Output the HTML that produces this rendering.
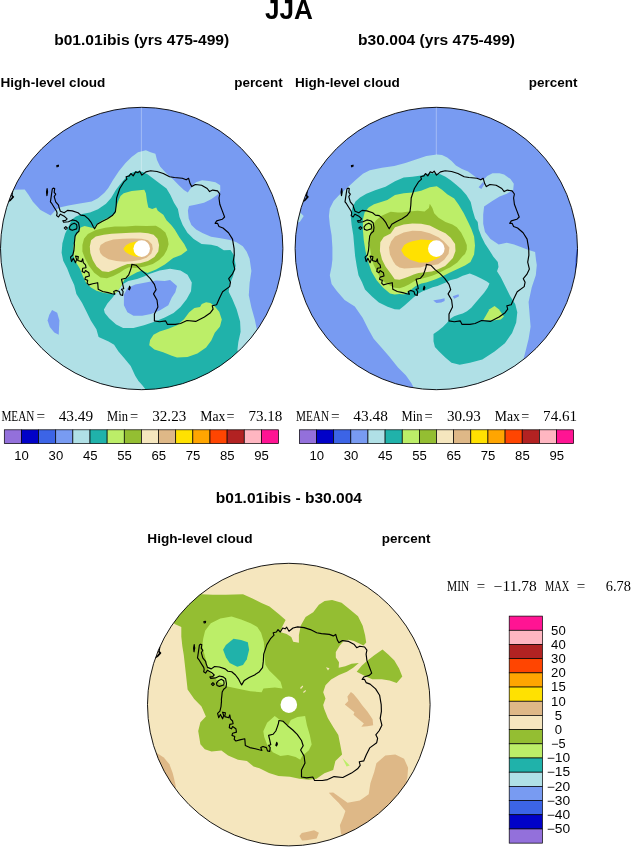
<!DOCTYPE html>
<html><head><meta charset="utf-8"><title>JJA High-level cloud</title>
<style>
html,body{margin:0;padding:0;background:#fff}
svg{display:block}
.b{font-family:"Liberation Sans",sans-serif;font-weight:bold;fill:#000}
.s{font-family:"Liberation Serif",serif;fill:#000}
.n{font-family:"Liberation Sans",sans-serif;fill:#000}
</style></head>
<body>
<svg width="632" height="847" viewBox="0 0 632 847">
<defs>
<clipPath id="c1"><circle cx="141.7" cy="248.5" r="141.2"/></clipPath>
<clipPath id="c2"><circle cx="436.3" cy="248.5" r="141.2"/></clipPath>
<clipPath id="c3"><circle cx="288.8" cy="704.6" r="141.3"/></clipPath>
</defs>
<rect width="632" height="847" fill="#fff"/>
<g opacity="0.999">
<!-- titles -->
<text class="b" x="264.9" y="19.4" font-size="27.5" textLength="48" lengthAdjust="spacingAndGlyphs">JJA</text>
<text class="b" x="54.2" y="44.6" font-size="15.5" textLength="175" lengthAdjust="spacingAndGlyphs">b01.01ibis (yrs 475-499)</text>
<text class="b" x="358" y="44.6" font-size="15.5" textLength="157" lengthAdjust="spacingAndGlyphs">b30.004 (yrs 475-499)</text>
<text class="b" x="0.5" y="87.1" font-size="13.5" textLength="104.8" lengthAdjust="spacingAndGlyphs">High-level cloud</text>
<text class="b" x="234.2" y="87.1" font-size="13.5" textLength="48.6" lengthAdjust="spacingAndGlyphs">percent</text>
<text class="b" x="295" y="87.1" font-size="13.5" textLength="104.8" lengthAdjust="spacingAndGlyphs">High-level cloud</text>
<text class="b" x="528.8" y="87.1" font-size="13.5" textLength="48.6" lengthAdjust="spacingAndGlyphs">percent</text>
<text class="b" x="215.8" y="502.8" font-size="15.5" textLength="146.2" lengthAdjust="spacingAndGlyphs">b01.01ibis - b30.004</text>
<text class="b" x="147.3" y="543.1" font-size="13.5" textLength="105.2" lengthAdjust="spacingAndGlyphs">High-level cloud</text>
<text class="b" x="381.8" y="543.1" font-size="13.5" textLength="48.6" lengthAdjust="spacingAndGlyphs">percent</text>

<!-- MAP1 -->
<g id="map1" clip-path="url(#c1)">
<rect x="0" y="100" width="290" height="300" fill="#789bf2"/>
<!--M1FILL_S-->
<path d="M-5.0,189.7 L13.3,189.7 L24.7,189.4 L28.5,194.8 L32.9,201.8 L40.5,210.0 L50.6,215.4 L55.7,210.0 L59.5,207.5 L68.4,205.6 L78.3,203.7 L91.7,201.4 L98.0,198.2 L104.4,192.7 L108.3,187.9 L112.7,180.6 L119.0,171.1 L125.3,163.2 L131.6,156.9 L138.0,152.2 L145.9,150.3 L150.6,152.2 L155.4,153.7 L157.0,160.1 L160.1,166.4 L166.5,173.5 L172.8,179.1 L179.1,185.4 L183.9,190.1 L187.8,192.5 L190.5,188.5 L193.0,185.0 L196.0,182.3 L202.1,180.2 L208.8,181.1 L215.4,182.2 L220.2,185.3 L220.3,190.9 L217.5,194.8 L211.1,199.2 L204.0,202.7 L195.3,204.8 L189.0,205.9 L187.9,210.6 L188.7,218.5 L191.4,224.9 L196.1,229.6 L202.4,233.1 L211.1,236.7 L220.6,238.3 L230.1,239.9 L236.5,242.3 L242.8,246.2 L246.7,251.8 L249.6,258.7 L251.4,270.9 L249.6,283.1 L248.8,295.3 L251.4,307.4 L254.8,319.6 L256.6,328.3 L262.0,335.0 L300.0,420.0 L-5.0,420.0Z" fill="#b0e0e6"/>
<path d="M52.1,310.0 L57.2,312.7 L59.4,320.4 L58.7,334.8 L54.3,332.6 L49.8,327.1 L47.6,320.4 L49.2,314.9Z" fill="#789bf2"/>
<path d="M61.6,252.8 L62.4,243.3 L65.1,233.8 L68.8,225.9 L72.0,219.6 L75.9,216.4 L82.2,214.0 L90.0,212.4 L98.0,209.3 L106.0,203.7 L111.1,198.0 L115.8,190.1 L120.6,183.8 L125.3,178.3 L130.1,173.5 L136.4,171.1 L142.7,171.9 L147.5,174.3 L153.8,179.1 L160.1,183.8 L166.5,188.5 L170.4,194.9 L174.0,202.7 L177.9,209.1 L179.5,217.0 L182.7,224.9 L187.4,232.8 L193.7,239.1 L201.6,243.9 L211.1,244.7 L217.5,246.2 L223.8,250.2 L230.5,250.0 L234.0,255.2 L235.7,265.7 L233.1,276.1 L229.6,284.8 L228.7,291.8 L232.2,298.7 L236.6,309.2 L240.1,321.4 L240.6,331.8 L238.3,342.3 L237.4,350.1 L240.0,360.0 L240.0,420.0 L150.0,420.0 L146.0,390.0 L142.3,385.2 L138.5,380.9 L135.2,375.7 L130.7,365.9 L124.1,358.1 L118.5,351.5 L114.1,344.8 L108.6,341.5 L98.6,337.1 L96.4,329.3 L90.8,320.4 L86.4,311.6 L82.0,302.7 L76.4,293.9 L74.2,285.0 L71.9,280.0 L70.3,276.5 L67.2,268.6 L63.2,260.7Z" fill="#20b2aa"/>
<path d="M149.2,273.9 L159.6,270.4 L170.1,268.7 L180.5,270.4 L187.5,274.8 L191.8,282.6 L191.0,291.3 L186.6,299.2 L180.5,307.0 L173.6,313.1 L164.8,317.4 L154.4,321.8 L144.0,325.3 L133.5,327.9 L123.1,327.9 L116.1,324.4 L109.1,318.3 L104.8,313.1 L103.9,309.6 L107.4,303.5 L112.6,297.4 L117.8,290.5 L122.2,284.4 L128.3,280.9 L137.0,279.1 L144.0,276.5Z" fill="#b0e0e6"/>
<path d="M123.9,294.8 L127.4,287.9 L135.3,284.4 L145.7,282.6 L156.1,280.5 L164.8,280.9 L170.1,280.0 L177.0,286.1 L175.3,292.2 L171.8,297.4 L168.3,305.3 L159.6,310.5 L150.9,314.0 L142.2,315.7 L133.5,315.7 L127.4,312.2 L123.9,305.3Z" fill="#789bf2"/>
<path d="M206.1,302.2 L210.5,303.1 L214.8,306.6 L219.2,311.8 L221.8,319.6 L220.0,326.6 L214.8,332.7 L211.3,340.5 L206.1,347.5 L197.4,353.6 L187.5,357.1 L177.0,357.5 L171.8,355.7 L163.1,352.2 L154.4,349.6 L149.2,345.3 L150.1,340.1 L153.5,334.8 L159.6,331.4 L168.3,328.8 L177.0,325.3 L184.0,319.2 L189.2,312.2 L194.4,307.9 L200.0,307.0 L201.8,304.0Z" fill="#bcee68"/>
<path d="M73.5,246.5 L75.1,237.0 L78.3,232.2 L80.6,227.5 L84.6,225.9 L94.0,228.3 L96.5,224.3 L101.2,221.1 L109.0,217.2 L115.4,213.2 L116.2,206.9 L118.5,200.6 L120.5,196.0 L123.7,193.3 L131.6,190.9 L144.3,189.8 L145.9,193.3 L147.0,201.2 L148.3,207.5 L152.2,209.1 L156.2,207.5 L157.8,210.7 L163.3,214.7 L166.5,220.2 L171.2,224.9 L174.7,229.6 L179.5,237.5 L184.2,243.9 L187.4,250.2 L181.1,254.9 L173.2,258.1 L164.8,264.4 L156.1,269.6 L147.4,273.1 L142.2,270.4 L137.0,272.2 L129.2,276.5 L124.8,279.1 L121.3,286.1 L116.2,293.1 L112.3,293.9 L104.4,293.1 L96.5,290.8 L90.9,287.6 L86.2,282.9 L83.0,276.5 L79.8,268.6 L75.9,262.3 L73.5,256.0Z" fill="#bcee68"/>
<path d="M82.4,245.1 L84.0,238.7 L87.9,234.0 L95.8,230.0 L105.3,227.7 L114.8,226.4 L125.9,226.4 L135.4,225.8 L146.5,226.1 L155.9,225.8 L160.7,228.4 L165.4,232.4 L167.8,238.7 L168.6,244.3 L167.0,249.8 L163.9,255.3 L159.1,260.1 L152.8,264.1 L144.9,266.4 L135.4,268.0 L129.0,267.2 L124.3,269.6 L119.6,272.8 L113.2,275.9 L106.9,278.3 L100.6,277.5 L94.2,272.8 L88.7,265.6 L84.7,257.7 L82.4,251.4Z" fill="#94be32"/>
<path d="M89.8,246.6 L91.1,240.3 L95.8,236.4 L103.7,234.8 L111.6,233.7 L121.1,233.2 L130.6,232.7 L140.1,232.4 L148.0,233.2 L153.6,234.8 L157.5,238.7 L159.1,245.1 L158.3,251.4 L154.4,256.9 L148.0,260.9 L140.1,263.3 L135.4,263.7 L127.5,264.1 L121.1,266.4 L114.8,269.6 L108.5,272.0 L102.2,271.2 L96.6,266.4 L92.7,260.1 L90.3,253.0Z" fill="#f5e6be"/>
<path d="M99.3,249.0 L100.6,245.1 L105.3,241.9 L113.2,239.5 L122.7,238.7 L132.2,238.4 L141.7,238.7 L148.0,240.3 L152.0,244.3 L152.8,249.0 L151.2,253.8 L146.5,257.7 L140.1,260.1 L132.2,261.2 L124.3,261.7 L116.4,260.9 L108.5,259.3 L102.9,256.1 L100.3,253.0Z" fill="#deb887"/>
<path d="M123.3,248.7 L126.0,245.3 L130.0,243.0 L136.0,241.5 L142.0,241.5 L142.0,257.0 L135.0,256.5 L129.5,254.5 L125.5,252.0Z" fill="#ffe100"/>
<circle cx="141.7" cy="248.6" r="8.3" fill="#fff"/>
<line x1="141.4" y1="107" x2="141.4" y2="171" stroke="#fff" stroke-opacity="0.45" stroke-width="0.7"/>
<path d="M53.3,188.1 L54.7,188.5 L54.2,192.3 L55.7,194.2 L54.2,196.6 L55.7,201.8 L58.5,205.2 L59.0,207.5 L60.4,211.3 L64.2,212.8 L67.5,210.4 L72.3,210.9 L78.0,212.8 L80.8,215.1 L84.6,215.6 L88.4,218.9 L91.3,222.7 L93.2,226.5 L94.6,228.8 L97.2,224.3 L102.0,221.5 L107.5,218.8 L112.3,215.6 L115.4,211.6 L116.2,205.3 L116.6,198.0 L119.8,188.5 L123.7,182.2 L126.9,179.1 L126.1,176.7 L129.3,175.9 L130.9,173.5 L133.2,175.9 L135.6,171.9 L138.0,172.7 L139.6,171.1 L141.9,175.1 L145.9,171.9 L150.6,170.8 L157.0,171.5 L163.3,173.5 L169.6,176.7 L174.4,177.5 L182.3,178.3 L186.2,179.8 L188.6,178.3 L190.2,183.8 L191.8,186.6 L195.3,184.5 L201.6,185.3 L207.2,188.5 L209.6,191.6 L212.7,190.1 L217.5,190.9 L219.8,194.0 L219.0,198.0 L219.8,204.3 L222.2,210.6 L224.6,217.0 L222.2,219.3 L216.7,220.9 L215.1,223.3 L217.5,223.3 L219.0,226.5 L223.0,228.0 L228.5,232.8 L232.5,239.1 L234.1,248.6 L234.3,255.2 L233.1,262.2 L234.8,269.1 L232.2,274.4 L228.7,278.7 L230.5,282.2 L229.6,286.6 L222.6,291.8 L219.2,298.7 L216.6,304.8 L212.2,305.7 L213.1,309.2 L210.5,312.7 L204.4,317.0 L195.7,321.4 L187.0,320.5 L180.5,323.5 L175.3,324.4 L167.5,324.4 L165.7,320.9 L159.6,321.8 L154.4,320.9 L154.4,314.0 L157.9,307.0 L157.0,300.0 L153.5,293.9 L156.1,289.6 L154.4,284.4 L150.1,278.3 L145.7,273.9 L140.5,269.6 L136.1,265.2 L131.8,264.4 L131.4,267.1 L130.3,270.5 L128.7,274.9 L125.9,278.2 L121.5,279.3 L122.6,283.8 L123.7,288.7 L121.5,289.3 L123.1,291.5 L122.6,295.4 L120.4,294.8 L119.3,291.5 L115.9,290.4 L113.7,291.5 L114.8,294.3 L112.1,293.7 L108.2,292.6 L102.7,291.5 L98.2,289.3 L97.7,282.7 L92.7,283.8 L88.8,284.9 L87.1,283.2 L87.7,280.4 L84.9,279.3 L85.5,277.1 L89.4,276.0 L88.8,272.7 L85.5,270.5 L84.4,272.7 L82.2,271.6 L82.7,268.3 L86.0,267.7 L85.5,264.9 L83.3,262.7 L82.7,258.8 L81.6,261.6 L77.7,260.5 L78.3,256.6 L75.5,256.1 L76.6,259.4 L75.5,262.7 L73.3,258.3 L71.6,261.6 L70.5,257.2 L72.8,255.0 L73.9,250.5 L74.4,245.0 L74.3,243.3 L74.7,240.0 L75.1,236.0 L76.6,233.2 L78.9,231.3 L79.4,227.5 L78.5,222.7 L76.1,220.8 L72.3,219.9 L68.5,221.8 L63.7,222.3 L62.8,220.8 L65.6,220.4 L67.1,218.9 L64.7,216.6 L60.4,214.2 L59.9,214.7 L58.5,217.0 L56.6,215.6 L57.1,213.2 L56.6,211.3 L54.2,207.5 L51.9,203.7 L50.4,201.8 L51.4,195.2 L52.3,189.0 L53.3,188.1Z" fill="none" stroke="#000" stroke-width="1.15" stroke-linejoin="round"/>
<path d="M12.7,190.9 L12.0,195.3 L13.6,196.9 L10.4,200.4 L8.2,201.6 L10.2,200.0 L12.6,197.0 L11.6,195.5Z" fill="none" stroke="#000" stroke-width="1.15" stroke-linejoin="round"/>
<path d="M47.1,188.5 L47.6,192.0 L46.9,195.7 L46.5,192.0Z" fill="none" stroke="#000" stroke-width="1.15" stroke-linejoin="round"/>
<path d="M77.0,227.0 L76.6,224.6 L74.2,223.2 L71.3,224.6 L69.4,227.0 L69.9,229.4 L72.3,230.3 L76.6,228.9 L77.0,227.0Z" fill="none" stroke="#000" stroke-width="1.15" stroke-linejoin="round"/>
<path d="M64.3,228.0 L65.8,226.6 L67.3,228.0 L65.8,229.4Z" fill="none" stroke="#000" stroke-width="1.15" stroke-linejoin="round"/>
<path d="M56.8,165.5 L58.5,165.2 L58.3,166.5 L57.0,166.8Z" fill="none" stroke="#000" stroke-width="1.15" stroke-linejoin="round"/>
<path d="M128.7,289.3 L129.6,286.2 L130.3,287.8 L129.4,289.8Z" fill="none" stroke="#000" stroke-width="1.15" stroke-linejoin="round"/>
<!--M1FILL_E-->
</g>
<circle cx="141.7" cy="248.5" r="141.2" fill="none" stroke="#000" stroke-width="0.9"/>

<!-- MAP2 -->
<g id="map2" clip-path="url(#c2)">
<rect x="290" y="100" width="300" height="300" fill="#789bf2"/>
<!--M2FILL_S-->
<path d="M344.6,300.0 L342.0,297.0 L336.8,291.0 L331.6,284.0 L329.8,275.3 L331.6,266.6 L332.4,259.6 L332.4,247.4 L331.6,235.3 L329.8,224.8 L328.9,216.1 L329.8,208.4 L333.6,201.0 L339.2,195.0 L347.0,188.0 L355.9,179.8 L362.9,173.8 L369.8,170.3 L382.0,167.7 L394.2,165.9 L405.4,162.9 L415.9,159.4 L426.3,155.9 L436.8,154.5 L442.0,155.0 L447.2,157.6 L451.6,161.1 L455.9,165.5 L462.0,168.9 L468.1,171.6 L472.5,174.7 L477.7,178.5 L483.8,179.4 L487.2,175.9 L492.5,173.3 L499.4,173.3 L504.1,174.6 L510.5,179.1 L513.8,183.7 L513.2,190.0 L506.8,193.7 L499.6,196.4 L492.3,200.9 L484.1,206.4 L483.2,214.6 L483.2,223.7 L485.0,231.9 L490.5,239.1 L498.7,244.6 L506.8,242.8 L514.1,244.6 L521.4,247.3 L528.7,250.1 L535.1,251.9 L536.0,260.1 L536.8,265.0 L535.8,275.3 L531.7,287.6 L528.6,302.0 L529.6,314.4 L530.6,326.7 L528.6,339.0 L525.5,351.4 L523.9,357.6 L520.0,370.0 L520.0,420.0 L416.0,420.0 L413.6,387.4 L411.3,383.0 L405.8,375.3 L398.0,367.5 L389.2,356.4 L381.4,347.6 L373.7,338.7 L368.1,328.7 L362.6,317.7 L354.8,306.6Z" fill="#b0e0e6"/>
<path d="M296.0,210.0 L300.2,212.6 L303.7,216.1 L300.2,221.3 L296.0,224.0Z" fill="#b0e0e6"/>
<path d="M478.6,187.3 L483.2,181.8 L484.1,184.6 L481.4,189.1Z" fill="#789bf2"/>
<path d="M577.0,248.0 L578.5,248.0 L578.5,270.0 L575.0,270.0 L575.6,258.0Z" fill="#3c64e6"/>
<path d="M399.5,309.6 L394.7,309.2 L387.6,306.8 L378.9,302.5 L372.0,296.4 L365.0,289.4 L362.0,282.2 L358.5,275.3 L356.8,266.6 L355.1,256.1 L354.2,245.7 L353.3,235.3 L351.6,224.8 L350.7,216.1 L352.4,207.4 L355.5,201.5 L360.0,197.5 L366.4,193.8 L375.1,190.3 L385.5,186.8 L395.0,181.3 L403.7,177.6 L412.4,176.8 L421.1,175.4 L429.8,173.3 L435.9,173.6 L440.3,174.2 L445.5,176.8 L450.7,180.3 L455.9,184.6 L461.1,189.0 L466.4,195.1 L470.7,202.0 L472.5,209.8 L475.1,218.6 L477.7,221.9 L478.6,229.1 L481.4,236.4 L485.0,243.7 L488.7,249.2 L493.2,256.4 L497.8,261.9 L498.5,267.0 L497.0,271.2 L500.8,277.3 L504.9,285.6 L510.1,295.9 L515.2,304.1 L517.3,312.3 L516.2,322.6 L512.1,332.9 L504.9,343.2 L494.6,351.4 L482.3,359.6 L470.0,362.7 L459.7,364.8 L451.5,362.7 L445.3,357.6 L439.1,351.4 L434.9,346.9 L433.5,341.2 L433.5,334.1 L438.5,330.5 L442.8,327.0 L447.0,322.7 L450.6,318.4 L454.2,316.3 L458.4,314.8 L462.7,313.4 L467.0,311.3 L471.3,307.7 L475.5,302.7 L479.8,297.7 L484.1,292.8 L487.6,287.8 L489.5,283.5 L486.9,281.4 L481.2,278.5 L475.5,275.7 L469.8,273.5 L462.7,275.7 L457.0,278.5 L450.0,280.2 L447.0,282.1 L442.2,284.0 L437.5,285.9 L432.7,287.3 L428.0,289.2 L423.2,291.1 L418.5,293.5 L413.7,297.3 L409.0,301.6 L404.2,305.8Z" fill="#20b2aa"/>
<path d="M433.2,300.6 L436.5,303.0 L441.3,302.5 L444.6,301.1 L444.6,298.2 L440.3,299.2 L435.6,300.1Z" fill="#789bf2"/>
<path d="M452.7,296.3 L458.4,294.2 L459.1,296.3 L454.2,298.7Z" fill="#789bf2"/>
<path d="M483.3,320.1 L489.5,309.2 L494.6,306.1 L498.8,309.2 L503.9,316.4 L500.8,319.5 L492.6,320.5Z" fill="#bcee68"/>
<path d="M399.5,294.0 L394.7,294.4 L390.0,293.5 L382.9,287.5 L376.8,280.5 L371.6,271.8 L368.1,261.4 L365.5,250.9 L363.8,240.5 L362.9,230.0 L362.9,219.6 L364.6,212.6 L368.6,207.4 L374.0,204.2 L379.5,202.5 L387.3,199.9 L395.0,195.0 L403.7,193.3 L412.4,192.4 L421.1,190.7 L429.8,187.2 L436.8,186.3 L442.0,189.8 L447.2,194.2 L454.2,198.5 L458.5,204.6 L463.8,213.3 L468.1,222.0 L471.4,229.1 L474.1,236.4 L475.0,245.5 L474.1,254.6 L470.5,261.9 L465.0,265.5 L457.0,269.3 L450.0,272.6 L445.1,275.0 L440.3,277.3 L435.6,279.2 L430.8,281.1 L426.1,282.6 L421.3,283.5 L416.6,285.4 L412.8,288.3 L409.0,291.6 L404.2,294.4Z" fill="#bcee68"/>
<path d="M399.5,288.3 L394.7,287.8 L390.0,285.4 L382.4,280.7 L378.1,273.7 L373.7,265.0 L371.1,256.3 L370.0,247.6 L369.6,242.2 L370.2,233.5 L372.5,225.7 L375.9,220.5 L381.2,216.1 L385.5,214.0 L390.7,211.8 L397.7,212.6 L402.0,212.5 L408.9,211.6 L417.6,210.7 L424.6,211.6 L428.9,208.1 L429.8,203.8 L432.4,208.1 L434.2,213.3 L438.5,217.7 L445.5,222.0 L452.4,224.6 L456.8,227.3 L461.1,232.5 L464.6,239.4 L466.8,245.0 L466.8,249.4 L465.0,254.0 L462.5,256.3 L457.3,262.4 L450.0,267.4 L447.0,268.8 L442.2,271.2 L437.5,273.5 L432.7,275.4 L428.0,276.9 L423.2,278.3 L418.5,279.2 L413.7,281.6 L409.0,284.5 L404.2,286.8Z" fill="#94be32"/>
<path d="M399.5,279.7 L394.7,279.2 L390.7,273.6 L385.5,266.6 L382.0,259.6 L379.9,250.9 L380.3,242.2 L383.8,237.0 L390.7,233.5 L395.0,227.3 L403.7,224.6 L412.4,223.4 L421.1,223.8 L429.8,225.5 L438.5,229.9 L445.5,233.3 L450.7,237.7 L455.1,244.1 L455.5,251.1 L452.9,258.1 L448.6,262.4 L445.1,265.9 L440.3,268.3 L435.6,270.2 L431.8,271.6 L422.8,272.6 L418.5,273.1 L413.7,274.5 L409.0,276.4 L404.2,278.3Z" fill="#f5e6be"/>
<path d="M399.5,267.4 L395.7,265.0 L393.3,261.4 L389.9,254.4 L389.0,247.6 L391.1,241.5 L395.0,236.5 L403.7,232.5 L412.4,230.7 L421.1,231.1 L429.8,233.3 L438.5,237.2 L443.7,241.2 L447.2,245.0 L449.4,247.6 L448.6,253.7 L444.2,259.8 L438.1,264.2 L431.1,265.4 L425.1,265.9 L420.4,267.4 L414.7,267.8 L409.0,268.3 L404.2,268.6Z" fill="#deb887"/>
<path d="M401.2,250.2 L404.2,245.0 L408.0,242.8 L412.4,241.2 L421.1,239.6 L428.1,240.1 L436.0,240.5 L440.0,257.2 L434.6,259.8 L427.7,262.4 L419.0,262.4 L410.3,259.8 L404.2,255.5Z" fill="#ffe100"/>
<circle cx="436.3" cy="248.6" r="8.3" fill="#fff"/>
<line x1="436.3" y1="107" x2="436.3" y2="155" stroke="#fff" stroke-opacity="0.45" stroke-width="0.7"/>
<path d="M347.9,188.1 L349.3,188.5 L348.8,192.3 L350.3,194.2 L348.8,196.6 L350.3,201.8 L353.1,205.2 L353.6,207.5 L355.0,211.3 L358.8,212.8 L362.1,210.4 L366.9,210.9 L372.6,212.8 L375.4,215.1 L379.2,215.6 L383.0,218.9 L385.9,222.7 L387.8,226.5 L389.2,228.8 L391.8,224.3 L396.6,221.5 L402.1,218.8 L406.9,215.6 L410.0,211.6 L410.8,205.3 L411.2,198.0 L414.4,188.5 L418.3,182.2 L421.5,179.1 L420.7,176.7 L423.9,175.9 L425.5,173.5 L427.8,175.9 L430.2,171.9 L432.6,172.7 L434.2,171.1 L436.5,175.1 L440.5,171.9 L445.2,170.8 L451.6,171.5 L457.9,173.5 L464.2,176.7 L469.0,177.5 L476.9,178.3 L480.8,179.8 L483.2,178.3 L484.8,183.8 L486.4,186.6 L489.9,184.5 L496.2,185.3 L501.8,188.5 L504.2,191.6 L507.3,190.1 L512.1,190.9 L514.4,194.0 L513.6,198.0 L514.4,204.3 L516.8,210.6 L519.2,217.0 L516.8,219.3 L511.3,220.9 L509.7,223.3 L512.1,223.3 L513.6,226.5 L517.6,228.0 L523.1,232.8 L527.1,239.1 L528.7,248.6 L528.9,255.2 L527.7,262.2 L529.4,269.1 L526.8,274.4 L523.3,278.7 L525.1,282.2 L524.2,286.6 L517.2,291.8 L513.8,298.7 L511.2,304.8 L506.8,305.7 L507.7,309.2 L505.1,312.7 L499.0,317.0 L490.3,321.4 L481.6,320.5 L475.1,323.5 L469.9,324.4 L462.1,324.4 L460.3,320.9 L454.2,321.8 L449.0,320.9 L449.0,314.0 L452.5,307.0 L451.6,300.0 L448.1,293.9 L450.7,289.6 L449.0,284.4 L444.7,278.3 L440.3,273.9 L435.1,269.6 L430.7,265.2 L426.4,264.4 L426.0,267.1 L424.9,270.5 L423.3,274.9 L420.5,278.2 L416.1,279.3 L417.2,283.8 L418.3,288.7 L416.1,289.3 L417.7,291.5 L417.2,295.4 L415.0,294.8 L413.9,291.5 L410.5,290.4 L408.3,291.5 L409.4,294.3 L406.7,293.7 L402.8,292.6 L397.3,291.5 L392.8,289.3 L392.3,282.7 L387.3,283.8 L383.4,284.9 L381.7,283.2 L382.3,280.4 L379.5,279.3 L380.1,277.1 L384.0,276.0 L383.4,272.7 L380.1,270.5 L379.0,272.7 L376.8,271.6 L377.3,268.3 L380.6,267.7 L380.1,264.9 L377.9,262.7 L377.3,258.8 L376.2,261.6 L372.3,260.5 L372.9,256.6 L370.1,256.1 L371.2,259.4 L370.1,262.7 L367.9,258.3 L366.2,261.6 L365.1,257.2 L367.4,255.0 L368.5,250.5 L369.0,245.0 L368.9,243.3 L369.3,240.0 L369.7,236.0 L371.2,233.2 L373.5,231.3 L374.0,227.5 L373.1,222.7 L370.7,220.8 L366.9,219.9 L363.1,221.8 L358.3,222.3 L357.4,220.8 L360.2,220.4 L361.7,218.9 L359.3,216.6 L355.0,214.2 L354.5,214.7 L353.1,217.0 L351.2,215.6 L351.7,213.2 L351.2,211.3 L348.8,207.5 L346.5,203.7 L345.0,201.8 L346.0,195.2 L346.9,189.0 L347.9,188.1Z" fill="none" stroke="#000" stroke-width="1.15" stroke-linejoin="round"/>
<path d="M307.3,190.9 L306.6,195.3 L308.2,196.9 L305.0,200.4 L302.8,201.6 L304.8,200.0 L307.2,197.0 L306.2,195.5Z" fill="none" stroke="#000" stroke-width="1.15" stroke-linejoin="round"/>
<path d="M341.7,188.5 L342.2,192.0 L341.5,195.7 L341.1,192.0Z" fill="none" stroke="#000" stroke-width="1.15" stroke-linejoin="round"/>
<path d="M371.6,227.0 L371.2,224.6 L368.8,223.2 L365.9,224.6 L364.0,227.0 L364.5,229.4 L366.9,230.3 L371.2,228.9 L371.6,227.0Z" fill="none" stroke="#000" stroke-width="1.15" stroke-linejoin="round"/>
<path d="M358.9,228.0 L360.4,226.6 L361.9,228.0 L360.4,229.4Z" fill="none" stroke="#000" stroke-width="1.15" stroke-linejoin="round"/>
<path d="M351.4,165.5 L353.1,165.2 L352.9,166.5 L351.6,166.8Z" fill="none" stroke="#000" stroke-width="1.15" stroke-linejoin="round"/>
<path d="M423.3,289.3 L424.2,286.2 L424.9,287.8 L424.0,289.8Z" fill="none" stroke="#000" stroke-width="1.15" stroke-linejoin="round"/>
<!--M2FILL_E-->
</g>
<circle cx="436.3" cy="248.5" r="141.2" fill="none" stroke="#000" stroke-width="0.9"/>

<!-- MAP3 -->
<g id="map3" clip-path="url(#c3)">
<rect x="140" y="560" width="300" height="290" fill="#f5e6be"/>
<!--M3FILL_S-->
<path d="M328.8,792.7 L333.2,792.5 L347.6,802.7 L359.8,800.4 L368.7,794.2 L370.4,783.2 L374.2,772.1 L376.4,763.2 L385.3,755.5 L395.3,754.4 L404.1,758.8 L408.1,767.7 L407.4,777.6 L406.3,781.0 L430.0,800.0 L360.0,860.0 L341.0,833.7 L339.9,825.3 L343.2,817.5 L345.4,810.9 L338.8,803.1 L333.2,797.6Z" fill="#deb887"/>
<path d="M299.4,836.0 L301.8,833.1 L308.9,831.5 L314.1,830.3 L318.9,832.7 L316.6,838.6 L306.6,840.3 L302.0,840.5Z" fill="#deb887"/>
<path d="M157.2,753.2 L163.8,757.6 L169.4,764.2 L172.7,773.1 L174.9,782.0 L176.0,787.5 L150.0,800.0 L140.0,750.0Z" fill="#deb887"/>
<path d="M350.9,691.9 L353.5,694.0 L357.9,699.2 L362.2,705.3 L367.4,711.4 L372.6,719.2 L373.2,725.3 L367.4,726.2 L361.3,726.7 L363.9,723.6 L358.7,719.2 L353.5,714.8 L354.4,712.2 L350.0,708.8 L344.8,704.4 L348.3,700.9 L347.4,696.6Z" fill="#deb887"/>
<path d="M185.0,585.0 L201.3,594.3 L212.7,594.7 L225.9,594.7 L243.0,594.3 L252.5,598.5 L262.0,603.2 L269.5,606.6 L279.0,614.2 L285.6,619.9 L281.8,627.5 L280.9,632.2 L286.6,634.1 L291.3,637.0 L293.2,641.7 L298.9,642.7 L298.9,635.1 L300.8,625.6 L305.6,617.0 L313.2,612.3 L318.9,604.7 L324.6,600.9 L332.1,599.9 L341.6,602.8 L351.1,610.4 L358.0,616.3 L362.7,625.8 L365.1,635.3 L366.2,642.4 L363.5,645.6 L358.8,643.2 L354.0,640.9 L348.5,639.7 L343.7,640.9 L339.8,645.6 L335.8,651.9 L335.8,657.5 L339.0,662.2 L338.7,667.8 L345.3,666.2 L351.6,663.8 L358.8,663.0 L353.2,667.8 L346.9,671.7 L339.0,674.9 L331.1,679.6 L325.5,685.2 L323.2,692.3 L325.5,698.6 L323.2,704.9 L324.0,708.5 L327.8,718.0 L333.5,727.5 L338.3,735.1 L340.2,744.6 L342.1,754.4 L335.4,761.0 L333.2,769.9 L324.4,773.2 L316.5,778.7 L308.9,779.7 L299.4,778.7 L289.9,776.8 L278.5,775.9 L269.0,773.0 L259.5,768.3 L253.6,766.5 L246.9,760.9 L238.0,759.8 L228.1,755.4 L221.4,750.5 L211.5,751.4 L204.8,749.2 L200.4,744.3 L198.2,731.0 L200.4,722.2 L205.9,716.6 L201.5,706.6 L194.2,698.9 L187.6,689.4 L185.7,672.3 L183.8,655.2 L182.3,646.0 L181.3,636.5 L181.3,627.0 L174.7,624.1 L165.0,610.0Z" fill="#94be32"/>
<path d="M356.7,671.7 L361.9,665.4 L367.5,660.6 L374.6,655.1 L382.5,649.6 L388.0,654.3 L394.4,660.6 L399.1,668.5 L402.3,676.5 L396.7,683.1 L389.6,680.4 L381.7,679.3 L372.2,679.3 L365.9,676.5 L361.1,674.1Z" fill="#94be32"/>
<path d="M326.0,667.3 L329.5,668.2 L328.0,670.4Z" fill="#f5e6be"/>
<path d="M300.0,688.0 L302.5,685.5 L303.2,686.5 L301.0,689.0Z" fill="#f5e6be"/>
<path d="M303.0,692.0 L305.5,690.0 L306.0,691.0 L303.8,693.0Z" fill="#f5e6be"/>
<path d="M205.1,630.8 L210.8,623.2 L220.3,618.4 L231.6,616.5 L241.1,619.4 L250.6,623.2 L257.3,627.0 L261.1,632.7 L263.9,642.2 L264.5,655.2 L265.4,664.7 L269.2,670.4 L274.9,676.1 L280.6,681.8 L282.5,688.4 L274.9,687.5 L263.5,688.4 L261.6,692.2 L250.3,691.3 L237.0,688.4 L227.5,686.5 L219.9,682.7 L213.2,677.0 L208.5,670.4 L206.6,662.8 L203.7,651.4 L202.2,646.0 L203.2,638.4Z" fill="#bcee68"/>
<path d="M223.1,649.8 L225.9,645.0 L233.5,638.7 L241.1,639.9 L247.8,642.2 L249.1,649.8 L246.8,659.2 L243.0,664.9 L237.3,666.8 L229.7,663.0 L225.9,657.3Z" fill="#20b2aa"/>
<path d="M263.3,731.3 L267.1,722.7 L274.7,716.1 L279.4,719.5 L284.0,723.0 L288.0,725.6 L290.8,719.9 L297.5,717.0 L305.1,716.1 L307.0,725.6 L309.8,735.1 L311.7,744.6 L308.9,750.3 L302.2,755.9 L300.3,759.7 L295.6,756.9 L288.0,755.0 L280.4,755.9 L272.8,752.2 L267.1,744.6 L264.2,737.0Z" fill="#bcee68"/>
<path d="M342.4,757.9 L349.8,765.4 L346.6,766.5Z" fill="#bcee68"/>
<circle cx="288.8" cy="704.7" r="8.3" fill="#fff"/>
<path d="M200.4,644.2 L201.8,644.6 L201.3,648.4 L202.8,650.3 L201.3,652.7 L202.8,657.9 L205.6,661.3 L206.1,663.6 L207.5,667.4 L211.3,668.9 L214.6,666.5 L219.4,667.0 L225.1,668.9 L227.9,671.2 L231.7,671.7 L235.5,675.0 L238.4,678.8 L240.3,682.6 L241.7,684.9 L244.3,680.4 L249.1,677.6 L254.6,674.9 L259.4,671.7 L262.5,667.7 L263.3,661.4 L263.7,654.1 L266.9,644.6 L270.8,638.3 L274.0,635.2 L273.2,632.8 L276.4,632.0 L278.0,629.6 L280.3,632.0 L282.7,628.0 L285.1,628.8 L286.7,627.2 L289.0,631.2 L293.0,628.0 L297.7,626.9 L304.1,627.6 L310.4,629.6 L316.7,632.8 L321.5,633.6 L329.4,634.4 L333.3,635.9 L335.7,634.4 L337.3,639.9 L338.9,642.7 L342.4,640.6 L348.7,641.4 L354.3,644.6 L356.7,647.7 L359.8,646.2 L364.6,647.0 L366.9,650.1 L366.1,654.1 L366.9,660.4 L369.3,666.7 L371.7,673.1 L369.3,675.4 L363.8,677.0 L362.2,679.4 L364.6,679.4 L366.1,682.6 L370.1,684.1 L375.6,688.9 L379.6,695.2 L381.2,704.7 L381.4,711.3 L380.2,718.3 L381.9,725.2 L379.3,730.5 L375.8,734.8 L377.6,738.3 L376.7,742.7 L369.7,747.9 L366.3,754.8 L363.7,760.9 L359.3,761.8 L360.2,765.3 L357.6,768.8 L351.5,773.1 L342.8,777.5 L334.1,776.6 L327.6,779.6 L322.4,780.5 L314.6,780.5 L312.8,777.0 L306.7,777.9 L301.5,777.0 L301.5,770.1 L305.0,763.1 L304.1,756.1 L300.6,750.0 L303.2,745.7 L301.5,740.5 L297.2,734.4 L292.8,730.0 L287.6,725.7 L283.2,721.3 L278.9,720.5 L278.5,723.2 L277.4,726.6 L275.8,731.0 L273.0,734.3 L268.6,735.4 L269.7,739.9 L270.8,744.8 L268.6,745.4 L270.2,747.6 L269.7,751.5 L267.5,750.9 L266.4,747.6 L263.0,746.5 L260.8,747.6 L261.9,750.4 L259.2,749.8 L255.3,748.7 L249.8,747.6 L245.3,745.4 L244.8,738.8 L239.8,739.9 L235.9,741.0 L234.2,739.3 L234.8,736.5 L232.0,735.4 L232.6,733.2 L236.5,732.1 L235.9,728.8 L232.6,726.6 L231.5,728.8 L229.3,727.7 L229.8,724.4 L233.1,723.8 L232.6,721.0 L230.4,718.8 L229.8,714.9 L228.7,717.7 L224.8,716.6 L225.4,712.7 L222.6,712.2 L223.7,715.5 L222.6,718.8 L220.4,714.4 L218.7,717.7 L217.6,713.3 L219.9,711.1 L221.0,706.6 L221.5,701.1 L221.4,699.4 L221.8,696.1 L222.2,692.1 L223.7,689.3 L226.0,687.4 L226.5,683.6 L225.6,678.8 L223.2,676.9 L219.4,676.0 L215.6,677.9 L210.8,678.4 L209.9,676.9 L212.7,676.5 L214.2,675.0 L211.8,672.7 L207.5,670.3 L207.0,670.8 L205.6,673.1 L203.7,671.7 L204.2,669.3 L203.7,667.4 L201.3,663.6 L199.0,659.8 L197.5,657.9 L198.5,651.3 L199.4,645.1 L200.4,644.2Z" fill="none" stroke="#000" stroke-width="1.15" stroke-linejoin="round"/>
<path d="M159.8,647.0 L159.1,651.4 L160.7,653.0 L157.5,656.5 L155.3,657.7 L157.3,656.1 L159.7,653.1 L158.7,651.6Z" fill="none" stroke="#000" stroke-width="1.15" stroke-linejoin="round"/>
<path d="M194.2,644.6 L194.7,648.1 L194.0,651.8 L193.6,648.1Z" fill="none" stroke="#000" stroke-width="1.15" stroke-linejoin="round"/>
<path d="M224.1,683.1 L223.7,680.7 L221.3,679.3 L218.4,680.7 L216.5,683.1 L217.0,685.5 L219.4,686.4 L223.7,685.0 L224.1,683.1Z" fill="none" stroke="#000" stroke-width="1.15" stroke-linejoin="round"/>
<path d="M211.4,684.1 L212.9,682.7 L214.4,684.1 L212.9,685.5Z" fill="none" stroke="#000" stroke-width="1.15" stroke-linejoin="round"/>
<path d="M203.9,621.6 L205.6,621.3 L205.4,622.6 L204.1,622.9Z" fill="none" stroke="#000" stroke-width="1.15" stroke-linejoin="round"/>
<path d="M275.8,745.4 L276.7,742.3 L277.4,743.9 L276.5,745.9Z" fill="none" stroke="#000" stroke-width="1.15" stroke-linejoin="round"/>
<!--M3FILL_E-->
</g>
<circle cx="288.8" cy="704.6" r="141.3" fill="none" stroke="#000" stroke-width="0.9"/>
<!--BARS_START-->
<rect x="4.30" y="429.8" width="17.14" height="13.8" fill="#9370db" stroke="#000" stroke-width="0.7"/>
<rect x="21.44" y="429.8" width="17.14" height="13.8" fill="#0000c8" stroke="#000" stroke-width="0.7"/>
<rect x="38.58" y="429.8" width="17.14" height="13.8" fill="#3c64e6" stroke="#000" stroke-width="0.7"/>
<rect x="55.72" y="429.8" width="17.14" height="13.8" fill="#789bf2" stroke="#000" stroke-width="0.7"/>
<rect x="72.86" y="429.8" width="17.14" height="13.8" fill="#b0e0e6" stroke="#000" stroke-width="0.7"/>
<rect x="90.00" y="429.8" width="17.14" height="13.8" fill="#20b2aa" stroke="#000" stroke-width="0.7"/>
<rect x="107.14" y="429.8" width="17.14" height="13.8" fill="#bcee68" stroke="#000" stroke-width="0.7"/>
<rect x="124.28" y="429.8" width="17.14" height="13.8" fill="#94be32" stroke="#000" stroke-width="0.7"/>
<rect x="141.42" y="429.8" width="17.14" height="13.8" fill="#f5e6be" stroke="#000" stroke-width="0.7"/>
<rect x="158.56" y="429.8" width="17.14" height="13.8" fill="#deb887" stroke="#000" stroke-width="0.7"/>
<rect x="175.70" y="429.8" width="17.14" height="13.8" fill="#ffe100" stroke="#000" stroke-width="0.7"/>
<rect x="192.84" y="429.8" width="17.14" height="13.8" fill="#ffa500" stroke="#000" stroke-width="0.7"/>
<rect x="209.98" y="429.8" width="17.14" height="13.8" fill="#ff4500" stroke="#000" stroke-width="0.7"/>
<rect x="227.12" y="429.8" width="17.14" height="13.8" fill="#b22222" stroke="#000" stroke-width="0.7"/>
<rect x="244.26" y="429.8" width="17.14" height="13.8" fill="#ffb6c1" stroke="#000" stroke-width="0.7"/>
<rect x="261.40" y="429.8" width="17.14" height="13.8" fill="#ff1493" stroke="#000" stroke-width="0.7"/>
<text class="n" x="14.34" y="459.6" font-size="12" textLength="14.6" lengthAdjust="spacingAndGlyphs">10</text>
<text class="n" x="48.62" y="459.6" font-size="12" textLength="14.6" lengthAdjust="spacingAndGlyphs">30</text>
<text class="n" x="82.90" y="459.6" font-size="12" textLength="14.6" lengthAdjust="spacingAndGlyphs">45</text>
<text class="n" x="117.18" y="459.6" font-size="12" textLength="14.6" lengthAdjust="spacingAndGlyphs">55</text>
<text class="n" x="151.46" y="459.6" font-size="12" textLength="14.6" lengthAdjust="spacingAndGlyphs">65</text>
<text class="n" x="185.74" y="459.6" font-size="12" textLength="14.6" lengthAdjust="spacingAndGlyphs">75</text>
<text class="n" x="220.02" y="459.6" font-size="12" textLength="14.6" lengthAdjust="spacingAndGlyphs">85</text>
<text class="n" x="254.30" y="459.6" font-size="12" textLength="14.6" lengthAdjust="spacingAndGlyphs">95</text>
<text class="s" x="1.4" y="420.8" font-size="14" textLength="33" lengthAdjust="spacingAndGlyphs">MEAN</text>
<text class="s" x="36.4" y="420.8" font-size="14" textLength="8.6" lengthAdjust="spacingAndGlyphs">=</text>
<text class="s" x="58.7" y="420.8" font-size="14" textLength="34.5" lengthAdjust="spacingAndGlyphs">43.49</text>
<text class="s" x="107.0" y="420.8" font-size="14" textLength="20.9" lengthAdjust="spacingAndGlyphs">Min</text>
<text class="s" x="129.9" y="420.8" font-size="14" textLength="8.2" lengthAdjust="spacingAndGlyphs">=</text>
<text class="s" x="152.3" y="420.8" font-size="14" textLength="33.9" lengthAdjust="spacingAndGlyphs">32.23</text>
<text class="s" x="200.2" y="420.8" font-size="14" textLength="25.2" lengthAdjust="spacingAndGlyphs">Max</text>
<text class="s" x="226.6" y="420.8" font-size="14" textLength="8" lengthAdjust="spacingAndGlyphs">=</text>
<text class="s" x="248.5" y="420.8" font-size="14" textLength="33.9" lengthAdjust="spacingAndGlyphs">73.18</text>
<rect x="299.40" y="429.8" width="17.14" height="13.8" fill="#9370db" stroke="#000" stroke-width="0.7"/>
<rect x="316.54" y="429.8" width="17.14" height="13.8" fill="#0000c8" stroke="#000" stroke-width="0.7"/>
<rect x="333.68" y="429.8" width="17.14" height="13.8" fill="#3c64e6" stroke="#000" stroke-width="0.7"/>
<rect x="350.82" y="429.8" width="17.14" height="13.8" fill="#789bf2" stroke="#000" stroke-width="0.7"/>
<rect x="367.96" y="429.8" width="17.14" height="13.8" fill="#b0e0e6" stroke="#000" stroke-width="0.7"/>
<rect x="385.10" y="429.8" width="17.14" height="13.8" fill="#20b2aa" stroke="#000" stroke-width="0.7"/>
<rect x="402.24" y="429.8" width="17.14" height="13.8" fill="#bcee68" stroke="#000" stroke-width="0.7"/>
<rect x="419.38" y="429.8" width="17.14" height="13.8" fill="#94be32" stroke="#000" stroke-width="0.7"/>
<rect x="436.52" y="429.8" width="17.14" height="13.8" fill="#f5e6be" stroke="#000" stroke-width="0.7"/>
<rect x="453.66" y="429.8" width="17.14" height="13.8" fill="#deb887" stroke="#000" stroke-width="0.7"/>
<rect x="470.80" y="429.8" width="17.14" height="13.8" fill="#ffe100" stroke="#000" stroke-width="0.7"/>
<rect x="487.94" y="429.8" width="17.14" height="13.8" fill="#ffa500" stroke="#000" stroke-width="0.7"/>
<rect x="505.08" y="429.8" width="17.14" height="13.8" fill="#ff4500" stroke="#000" stroke-width="0.7"/>
<rect x="522.22" y="429.8" width="17.14" height="13.8" fill="#b22222" stroke="#000" stroke-width="0.7"/>
<rect x="539.36" y="429.8" width="17.14" height="13.8" fill="#ffb6c1" stroke="#000" stroke-width="0.7"/>
<rect x="556.50" y="429.8" width="17.14" height="13.8" fill="#ff1493" stroke="#000" stroke-width="0.7"/>
<text class="n" x="309.44" y="459.6" font-size="12" textLength="14.6" lengthAdjust="spacingAndGlyphs">10</text>
<text class="n" x="343.72" y="459.6" font-size="12" textLength="14.6" lengthAdjust="spacingAndGlyphs">30</text>
<text class="n" x="378.00" y="459.6" font-size="12" textLength="14.6" lengthAdjust="spacingAndGlyphs">45</text>
<text class="n" x="412.28" y="459.6" font-size="12" textLength="14.6" lengthAdjust="spacingAndGlyphs">55</text>
<text class="n" x="446.56" y="459.6" font-size="12" textLength="14.6" lengthAdjust="spacingAndGlyphs">65</text>
<text class="n" x="480.84" y="459.6" font-size="12" textLength="14.6" lengthAdjust="spacingAndGlyphs">75</text>
<text class="n" x="515.12" y="459.6" font-size="12" textLength="14.6" lengthAdjust="spacingAndGlyphs">85</text>
<text class="n" x="549.40" y="459.6" font-size="12" textLength="14.6" lengthAdjust="spacingAndGlyphs">95</text>
<text class="s" x="296.0" y="420.8" font-size="14" textLength="33" lengthAdjust="spacingAndGlyphs">MEAN</text>
<text class="s" x="331.0" y="420.8" font-size="14" textLength="8.6" lengthAdjust="spacingAndGlyphs">=</text>
<text class="s" x="353.3" y="420.8" font-size="14" textLength="34.5" lengthAdjust="spacingAndGlyphs">43.48</text>
<text class="s" x="401.6" y="420.8" font-size="14" textLength="20.9" lengthAdjust="spacingAndGlyphs">Min</text>
<text class="s" x="424.5" y="420.8" font-size="14" textLength="8.2" lengthAdjust="spacingAndGlyphs">=</text>
<text class="s" x="446.9" y="420.8" font-size="14" textLength="33.9" lengthAdjust="spacingAndGlyphs">30.93</text>
<text class="s" x="494.8" y="420.8" font-size="14" textLength="25.2" lengthAdjust="spacingAndGlyphs">Max</text>
<text class="s" x="521.2" y="420.8" font-size="14" textLength="8" lengthAdjust="spacingAndGlyphs">=</text>
<text class="s" x="543.1" y="420.8" font-size="14" textLength="33.9" lengthAdjust="spacingAndGlyphs">74.61</text>
<rect x="509.2" y="616.10" width="33.2" height="14.19" fill="#ff1493" stroke="#000" stroke-width="0.7"/>
<rect x="509.2" y="630.29" width="33.2" height="14.19" fill="#ffb6c1" stroke="#000" stroke-width="0.7"/>
<rect x="509.2" y="644.48" width="33.2" height="14.19" fill="#b22222" stroke="#000" stroke-width="0.7"/>
<rect x="509.2" y="658.67" width="33.2" height="14.19" fill="#ff4500" stroke="#000" stroke-width="0.7"/>
<rect x="509.2" y="672.86" width="33.2" height="14.19" fill="#ffa500" stroke="#000" stroke-width="0.7"/>
<rect x="509.2" y="687.05" width="33.2" height="14.19" fill="#ffe100" stroke="#000" stroke-width="0.7"/>
<rect x="509.2" y="701.24" width="33.2" height="14.19" fill="#deb887" stroke="#000" stroke-width="0.7"/>
<rect x="509.2" y="715.43" width="33.2" height="14.19" fill="#f5e6be" stroke="#000" stroke-width="0.7"/>
<rect x="509.2" y="729.62" width="33.2" height="14.19" fill="#94be32" stroke="#000" stroke-width="0.7"/>
<rect x="509.2" y="743.81" width="33.2" height="14.19" fill="#bcee68" stroke="#000" stroke-width="0.7"/>
<rect x="509.2" y="758.00" width="33.2" height="14.19" fill="#20b2aa" stroke="#000" stroke-width="0.7"/>
<rect x="509.2" y="772.19" width="33.2" height="14.19" fill="#b0e0e6" stroke="#000" stroke-width="0.7"/>
<rect x="509.2" y="786.38" width="33.2" height="14.19" fill="#789bf2" stroke="#000" stroke-width="0.7"/>
<rect x="509.2" y="800.57" width="33.2" height="14.19" fill="#3c64e6" stroke="#000" stroke-width="0.7"/>
<rect x="509.2" y="814.76" width="33.2" height="14.19" fill="#0000c8" stroke="#000" stroke-width="0.7"/>
<rect x="509.2" y="828.95" width="33.2" height="14.19" fill="#9370db" stroke="#000" stroke-width="0.7"/>
<text class="n" x="551.10" y="634.59" font-size="12" textLength="14.6" lengthAdjust="spacingAndGlyphs">50</text>
<text class="n" x="551.10" y="648.78" font-size="12" textLength="14.6" lengthAdjust="spacingAndGlyphs">40</text>
<text class="n" x="551.10" y="662.97" font-size="12" textLength="14.6" lengthAdjust="spacingAndGlyphs">30</text>
<text class="n" x="551.10" y="677.16" font-size="12" textLength="14.6" lengthAdjust="spacingAndGlyphs">20</text>
<text class="n" x="551.10" y="691.35" font-size="12" textLength="14.6" lengthAdjust="spacingAndGlyphs">15</text>
<text class="n" x="551.10" y="705.54" font-size="12" textLength="14.6" lengthAdjust="spacingAndGlyphs">10</text>
<text class="n" x="554.75" y="719.73" font-size="12" textLength="7.3" lengthAdjust="spacingAndGlyphs">5</text>
<text class="n" x="554.75" y="733.92" font-size="12" textLength="7.3" lengthAdjust="spacingAndGlyphs">0</text>
<text class="n" x="551.10" y="748.11" font-size="12" textLength="14.6" lengthAdjust="spacingAndGlyphs">−5</text>
<text class="n" x="546.70" y="762.30" font-size="12" textLength="23.4" lengthAdjust="spacingAndGlyphs">−10</text>
<text class="n" x="546.70" y="776.49" font-size="12" textLength="23.4" lengthAdjust="spacingAndGlyphs">−15</text>
<text class="n" x="546.70" y="790.68" font-size="12" textLength="23.4" lengthAdjust="spacingAndGlyphs">−20</text>
<text class="n" x="546.70" y="804.87" font-size="12" textLength="23.4" lengthAdjust="spacingAndGlyphs">−30</text>
<text class="n" x="546.70" y="819.06" font-size="12" textLength="23.4" lengthAdjust="spacingAndGlyphs">−40</text>
<text class="n" x="546.70" y="833.25" font-size="12" textLength="23.4" lengthAdjust="spacingAndGlyphs">−50</text>
<text class="s" x="447.1" y="591.4" font-size="14" textLength="22.2" lengthAdjust="spacingAndGlyphs">MIN</text>
<text class="s" x="476.7" y="591.4" font-size="14" textLength="8.4" lengthAdjust="spacingAndGlyphs">=</text>
<text class="s" x="493.8" y="591.4" font-size="14" textLength="43" lengthAdjust="spacingAndGlyphs">−11.78</text>
<text class="s" x="544.9" y="591.4" font-size="14" textLength="24.3" lengthAdjust="spacingAndGlyphs">MAX</text>
<text class="s" x="576.8" y="591.4" font-size="14" textLength="8.5" lengthAdjust="spacingAndGlyphs">=</text>
<text class="s" x="605.7" y="591.4" font-size="14" textLength="25.2" lengthAdjust="spacingAndGlyphs">6.78</text>
<!--BARS_END-->
</g>
</svg>
</body></html>
